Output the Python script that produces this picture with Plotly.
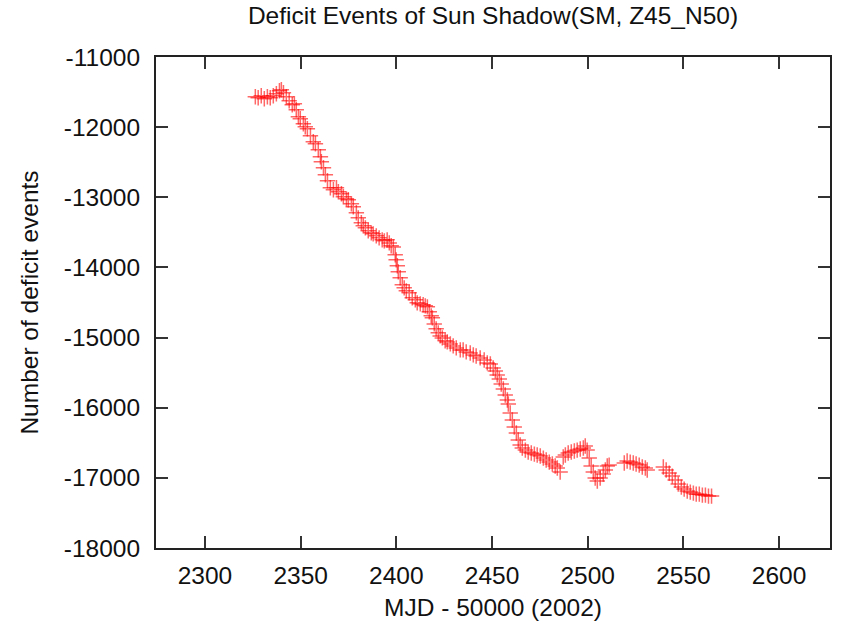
import plotly.graph_objects as go

title_text = "Deficit Events of Sun Shadow(SM, Z45_N50)"
x_label = "MJD - 50000 (2002)"
y_label = "Number of deficit events"

mjd = [
    2326.3, 2327.8, 2329.4, 2331.0, 2332.6, 2334.1, 2335.7, 2337.3, 2338.9, 2339.9,
    2341.0, 2342.5, 2344.0, 2345.6, 2346.7, 2347.7, 2348.8, 2349.8, 2351.4, 2352.4,
    2353.5, 2355.1, 2356.6, 2357.7, 2359.2, 2360.3, 2360.8, 2361.9, 2362.9, 2364.0,
    2365.5, 2367.1, 2368.7, 2369.7, 2371.3, 2372.3, 2373.9, 2374.9, 2376.5, 2377.5,
    2379.1, 2380.1, 2381.7, 2382.7, 2383.8, 2385.3, 2386.9, 2387.9, 2389.5, 2391.0,
    2392.6, 2393.7, 2395.2, 2396.3, 2397.3, 2398.4, 2399.4, 2399.9, 2400.5, 2401.0,
    2402.0, 2403.1, 2404.1, 2405.2, 2406.7, 2408.3, 2409.9, 2410.9, 2412.5, 2414.0,
    2415.1, 2416.2, 2417.2, 2418.2, 2418.8, 2419.8, 2420.8, 2421.9, 2422.9, 2424.0,
    2425.5, 2426.6, 2428.2, 2429.7, 2431.3, 2433.4, 2434.9, 2436.5, 2438.6, 2440.2,
    2441.7, 2443.8, 2445.9, 2447.5, 2449.1, 2450.6, 2451.7, 2452.7, 2453.8, 2454.8,
    2455.9, 2456.9, 2458.0, 2458.5, 2459.5, 2460.6, 2461.6, 2462.7, 2463.7, 2464.7,
    2465.8, 2467.4, 2468.9, 2470.5, 2472.1, 2473.6, 2475.2, 2476.8, 2478.3, 2479.9,
    2481.5, 2483.0, 2484.1, 2485.6, 2487.2, 2488.3, 2489.8, 2491.4, 2493.0, 2494.5,
    2496.1, 2497.7, 2498.7, 2499.7, 2500.8, 2501.8, 2502.9, 2503.9, 2505.0, 2506.5,
    2508.1, 2509.2, 2510.2, 2511.2, 2519.1, 2520.6, 2522.2, 2523.8, 2525.3, 2526.9,
    2528.5, 2530.1, 2531.1, 2539.5, 2541.0, 2542.6, 2544.2, 2545.7, 2547.3, 2548.9,
    2550.4, 2552.0, 2553.6, 2555.2, 2556.7, 2558.3, 2559.9, 2561.5, 2563.1, 2564.7,
]

deficit = [
    -11566, -11581, -11552, -11595, -11566, -11581, -11552, -11524, -11481, -11466,
    -11509, -11566, -11623, -11680, -11666, -11752, -11852, -11880, -11952, -11995,
    -12023, -12123, -12208, -12237, -12322, -12422, -12494, -12579, -12679, -12765,
    -12864, -12893, -12864, -12922, -12950, -12993, -13022, -13036, -13093, -13136,
    -13221, -13293, -13364, -13407, -13436, -13478, -13507, -13521, -13550, -13578,
    -13607, -13621, -13607, -13650, -13692, -13707, -13821, -13892, -13977, -14063,
    -14148, -14248, -14291, -14334, -14362, -14433, -14462, -14505, -14519, -14533,
    -14548, -14562, -14633, -14690, -14719, -14805, -14876, -14933, -14976, -15005,
    -15047, -15062, -15090, -15119, -15147, -15176, -15176, -15204, -15219, -15247,
    -15262, -15290, -15319, -15361, -15376, -15433, -15475, -15532, -15589, -15661,
    -15732, -15818, -15889, -15946, -16075, -16175, -16275, -16361, -16461, -16532,
    -16575, -16604, -16632, -16646, -16661, -16675, -16689, -16718, -16746, -16775,
    -16803, -16832, -16860, -16917, -16703, -16675, -16646, -16632, -16618, -16604,
    -16589, -16575, -16546, -16604, -16718, -16832, -16917, -17003, -17046, -17003,
    -16946, -16889, -16832, -16818, -16789, -16760, -16775, -16789, -16803, -16818,
    -16846, -16860, -16889, -16846, -16889, -16932, -16975, -17032, -17089, -17132,
    -17160, -17189, -17203, -17217, -17232, -17232, -17246, -17246, -17260, -17260,
]

x_ticks = [2300, 2350, 2400, 2450, 2500, 2550, 2600]
y_ticks = [-11000, -12000, -13000, -14000, -15000, -16000, -17000, -18000]

FONT = "Liberation Sans, Arial, Helvetica, sans-serif"
FS = 24.5

fig = go.Figure()
fig.add_trace(go.Scatter(
    x=mjd, y=deficit, mode="markers",
    marker=dict(symbol="cross-thin", size=11,
                line=dict(width=1.5, color="rgba(255,0,0,0.6)")),
    showlegend=False,
))

axis_common = dict(
    showline=True, linecolor="#222222", linewidth=2, mirror="ticks",
    ticks="inside", ticklen=12, tickwidth=1.5, tickcolor="#333333",
    showgrid=False, zeroline=False, automargin=False,
    tickfont=dict(family=FONT, size=FS, color="#111111"),
)

fig.update_layout(
    width=848, height=628,
    margin=dict(l=156, r=18, t=57, b=80),
    paper_bgcolor="white", plot_bgcolor="white",
    title=dict(text=title_text, x=0.5, xref="paper", xanchor="center",
               y=1 - 15 / 628, yref="container", yanchor="middle",
               font=dict(family=FONT, size=FS, color="#111111")),
    xaxis=dict(range=[2274.4, 2626.6], tickvals=x_ticks,
               ticktext=[str(v) for v in x_ticks], ticklabelstandoff=5,
               title=dict(text=x_label, standoff=10,
                          font=dict(family=FONT, size=FS, color="#111111")),
               **axis_common),
    yaxis=dict(range=[-18000, -11000], tickvals=y_ticks,
               ticktext=[str(v) for v in y_ticks], ticklabelstandoff=9,
               title=dict(text=y_label, standoff=18,
                          font=dict(family=FONT, size=FS, color="#111111")),
               **axis_common),
)

fig.write_html(
    "out.html",
    config={"displayModeBar": False},
    post_script="document.body.style.margin='0';document.body.style.overflow='hidden';",
)
